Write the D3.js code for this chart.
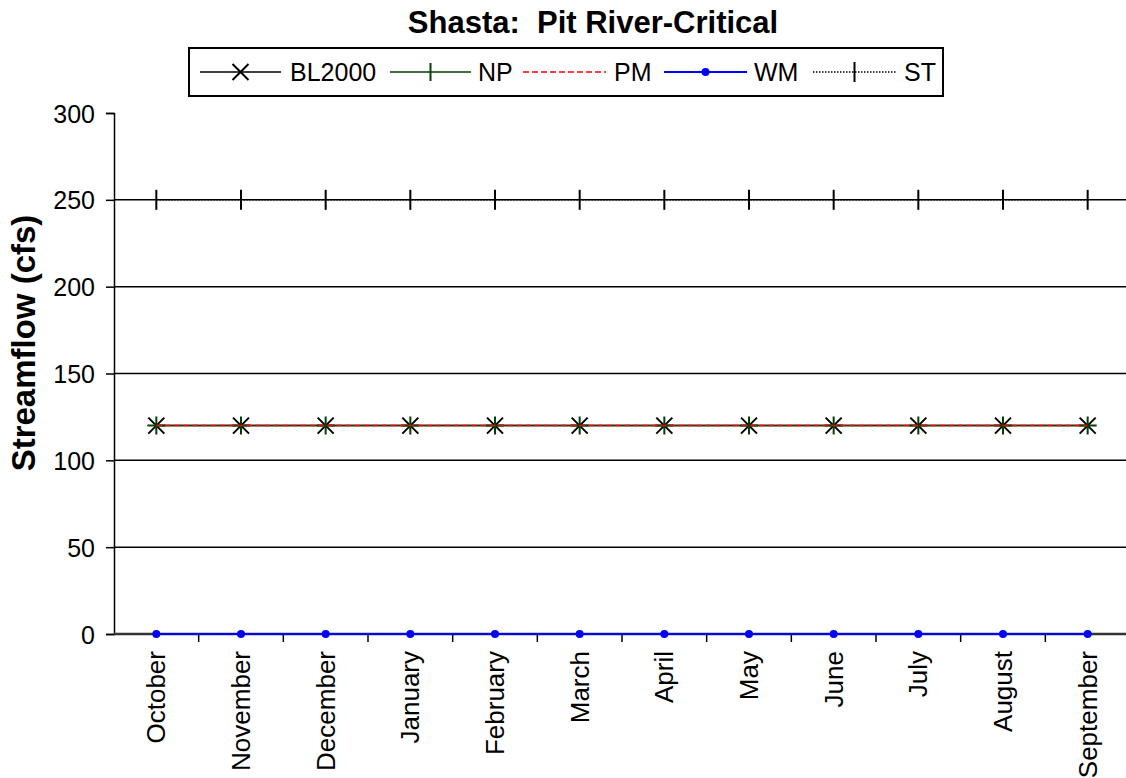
<!DOCTYPE html>
<html><head><meta charset="utf-8">
<script src="https://cdn.jsdelivr.net/npm/d3@7"></script>
<style>body{margin:0;background:#fff}svg{display:block}text{font-family:"Liberation Sans",Arial,sans-serif}</style>
</head><body>
<svg id="c" width="1126" height="778"></svg>
<script>
const months = ["October","November","December","January","February","March","April","May","June","July","August","September"];
const BL2000 = [120,120,120,120,120,120,120,120,120,120,120,120];
const NP = [120,120,120,120,120,120,120,120,120,120,120,120];
const PM = [120,120,120,120,120,120,120,120,120,120,120,120];
const WM = [0,0,0,0,0,0,0,0,0,0,0,0];
const ST = [250,250,250,250,250,250,250,250,250,250,250,250];
const yTicks = [0,50,100,150,200,250,300];

const svg = d3.select("#c");
const L = 114, T = 113, B = 634, R = 1130;
const x = d3.scaleBand().domain(months).range([L, R]);
const y = d3.scaleLinear().domain([0,300]).range([B, T]);
const FS = 25;

// gridlines
svg.append("g").selectAll("line").data(yTicks.filter(d=>d>0 && d<300)).join("line")
  .attr("x1", L).attr("x2", 1126).attr("y1", d=>y(d)).attr("y2", d=>y(d))
  .attr("stroke","#000").attr("stroke-width",1.5);

// y axis
const ya = svg.append("g").attr("transform",`translate(${L},0)`)
  .call(d3.axisLeft(y).tickValues(yTicks).tickSize(8).tickPadding(11));
ya.select(".domain").attr("stroke","#000").attr("stroke-width",1.5);
ya.selectAll(".tick line").attr("stroke-width",1.5);
ya.selectAll("text").attr("font-size",FS).attr("fill","#000").attr("font-family","Liberation Sans, Arial").attr("dy","0.36em");

// x axis
const xa = svg.append("g").attr("transform",`translate(0,${B})`)
  .call(d3.axisBottom(x).tickSize(0).tickPadding(0));
xa.select(".domain").remove();
xa.selectAll(".tick text").remove();
xa.append("line").attr("x1",L).attr("x2",1126).attr("y1",0).attr("y2",0).attr("stroke","#333").attr("stroke-width",2.5);
xa.selectAll("line.tk").data(months.slice(1)).join("line").attr("class","tk")
  .attr("x1",d=>x(d)).attr("x2",d=>x(d)).attr("y1",0).attr("y2",8).attr("stroke","#000").attr("stroke-width",1.5);
xa.selectAll("text.lbl").data(months).join("text").attr("class","lbl")
  .attr("transform",d=>`translate(${x(d)+x.bandwidth()/2+9},17) rotate(-90)`)
  .attr("text-anchor","end").attr("font-size",26).attr("fill","#000").text(d=>d);

const cx = (d,i)=>x(months[i])+x.bandwidth()/2;
const line = d3.line().x((d,i)=>cx(d,i)).y(d=>y(d));

// ST
svg.append("path").datum(ST).attr("d",line).attr("fill","none").attr("stroke","#000").attr("stroke-width",1.5).attr("stroke-dasharray","1.5,1.5");
svg.append("g").selectAll("line").data(ST).join("line")
  .attr("x1",cx).attr("x2",cx).attr("y1",d=>y(d)-10).attr("y2",d=>y(d)+10).attr("stroke","#000").attr("stroke-width",2);

// BL2000
svg.append("path").datum(BL2000).attr("d",line).attr("fill","none").attr("stroke","#000").attr("stroke-width",1.5);
svg.append("g").selectAll("path").data(BL2000).join("path")
  .attr("d",(d,i)=>{const a=cx(d,i),b=y(d),s=8;return `M${a-s},${b-s}L${a+s},${b+s}M${a-s},${b+s}L${a+s},${b-s}`;})
  .attr("stroke","#000").attr("stroke-width",2);

// NP
svg.append("path").datum(NP).attr("d",line).attr("fill","none").attr("stroke","#004000").attr("stroke-width",1.5);
svg.append("g").selectAll("path").data(NP).join("path")
  .attr("d",(d,i)=>{const a=cx(d,i),b=y(d),s=9;return `M${a},${b-s}L${a},${b+s}M${a-s},${b}L${a+s},${b}`;})
  .attr("stroke","#004000").attr("stroke-width",2);

// PM
svg.append("path").datum(PM).attr("d",line).attr("fill","none").attr("stroke","#ff0000").attr("stroke-width",1.5).attr("stroke-dasharray","6,3");

// WM
svg.append("path").datum(WM).attr("d",line).attr("fill","none").attr("stroke","#0000ff").attr("stroke-width",2);
svg.append("g").selectAll("circle").data(WM).join("circle")
  .attr("cx",cx).attr("cy",d=>y(d)).attr("r",4).attr("fill","#0000ff");

// title
svg.append("text").attr("x",593).attr("y",33).attr("text-anchor","middle").attr("font-size",31).attr("font-weight","bold").style("white-space","pre").text("Shasta:  Pit River-Critical");
// y label
svg.append("text").attr("transform",`translate(35,343) rotate(-90)`).attr("text-anchor","middle").attr("font-size",33).attr("font-weight","bold").text("Streamflow (cfs)");

// legend
const lg = svg.append("g");
lg.append("rect").attr("x",189).attr("y",48).attr("width",754).attr("height",48).attr("fill","#fff").attr("stroke","#000").attr("stroke-width",2);
const items = [
  {name:"BL2000", x1:200, x2:281, tx:290, color:"#000", dash:null, mk:"x"},
  {name:"NP", x1:390, x2:471, tx:478, color:"#004000", dash:null, mk:"+"},
  {name:"PM", x1:523, x2:606, tx:614, color:"#ff0000", dash:"6,3", mk:null},
  {name:"WM", x1:664, x2:747, tx:754, color:"#0000ff", dash:null, mk:"o"},
  {name:"ST", x1:813, x2:896, tx:904, color:"#000", dash:"1.5,1.5", mk:"|"}
];
const ly = 72;
items.forEach(it=>{
  lg.append("line").attr("x1",it.x1).attr("x2",it.x2).attr("y1",ly).attr("y2",ly).attr("stroke",it.color).attr("stroke-width",it.mk==="o"?2:1.5).attr("stroke-dasharray",it.dash);
  const m=(it.x1+it.x2)/2;
  if(it.mk==="x") lg.append("path").attr("d",`M${m-8},${ly-8}L${m+8},${ly+8}M${m-8},${ly+8}L${m+8},${ly-8}`).attr("stroke",it.color).attr("stroke-width",2);
  if(it.mk==="+") lg.append("path").attr("d",`M${m},${ly-9}L${m},${ly+9}`).attr("stroke",it.color).attr("stroke-width",2);
  if(it.mk==="|") lg.append("path").attr("d",`M${m},${ly-10}L${m},${ly+10}`).attr("stroke",it.color).attr("stroke-width",2);
  if(it.mk==="o") lg.append("circle").attr("cx",m).attr("cy",ly).attr("r",4).attr("fill",it.color);
  lg.append("text").attr("x",it.tx).attr("y",ly+9).attr("font-size",FS).text(it.name);
});
</script>
</body></html>
